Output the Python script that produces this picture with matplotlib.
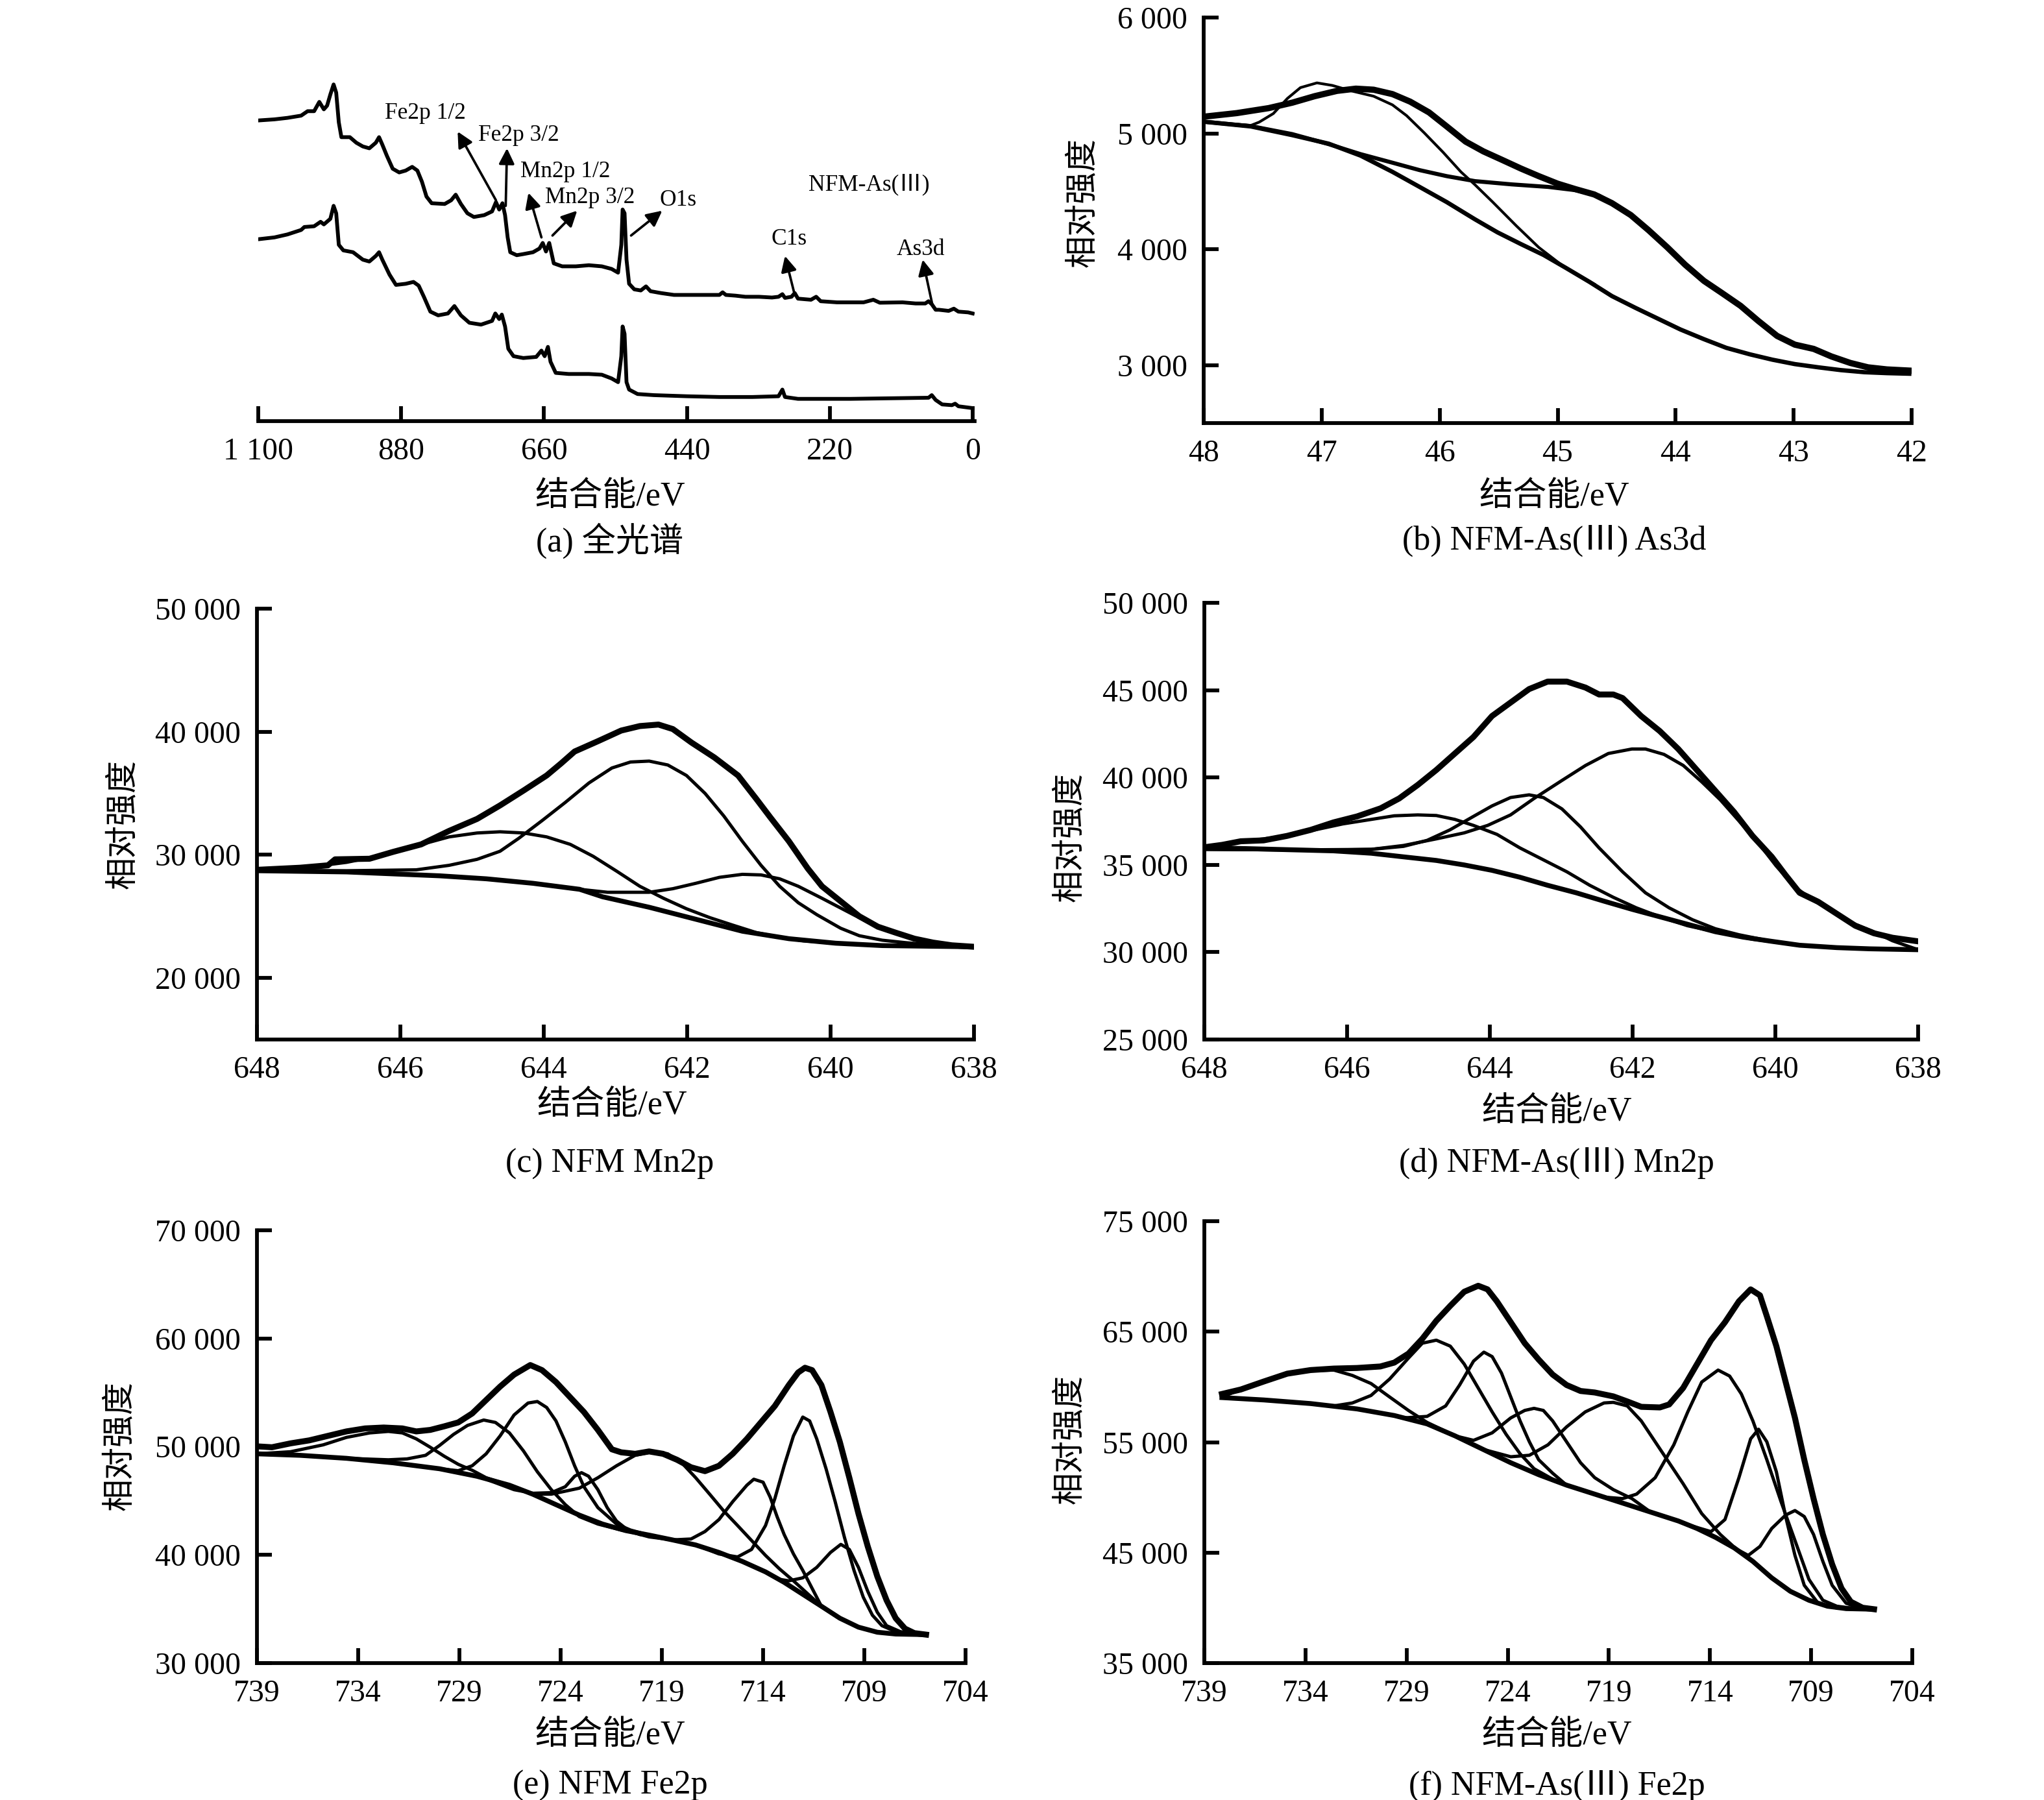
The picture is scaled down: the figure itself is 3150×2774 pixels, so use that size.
import matplotlib
matplotlib.use('Agg')
import matplotlib.pyplot as plt
from matplotlib.ticker import FuncFormatter

plt.rcParams['font.family'] = ['Liberation Serif', 'Noto Sans CJK SC']
plt.rcParams['axes.unicode_minus'] = False

# ---------------- (a) survey spectra (arbitrary intensity) ----------------
a_top_ev = [1100, 1075, 1055, 1034, 1024, 1014, 1006, 999, 994, 989, 984, 980, 976, 972, 959, 949, 939, 929,
            919, 914, 909, 902, 893, 883, 873, 863, 855, 848, 841, 833, 813, 803, 796, 788, 778, 768, 752, 740,
            734, 729, 724, 720, 716, 712, 702, 692, 677, 667, 662, 657, 652, 645, 632, 611, 591, 571, 556, 546,
            541, 539, 536, 533, 529, 521, 511, 503, 496, 480, 460, 440, 410, 390, 385, 380, 365, 350, 329, 309,
            299, 293, 289, 279, 274, 269, 249, 241, 234, 209, 168, 153, 143, 108, 88, 73, 68, 63, 57, 52, 37,
            29, 22, 7, 0]
a_top_int = [810, 813, 817, 823, 835, 835, 860, 840, 850, 880, 907, 885, 805, 765, 765, 750, 740, 735,
             750, 765, 745, 715, 680, 670, 675, 685, 675, 645, 605, 587, 585, 595, 610, 585, 560, 550, 555, 565,
             590, 570, 587, 555, 495, 455, 447, 450, 455, 465, 480, 457, 480, 425, 417, 417, 420, 417, 410, 400,
             475, 570, 560, 435, 370, 355, 352, 363, 350, 345, 340, 340, 340, 340, 347, 340, 338, 335, 335, 333,
             335, 342, 332, 335, 345, 330, 327, 335, 323, 320, 320, 327, 319, 320, 317, 317, 323, 315, 300, 300, 297,
             303, 295, 293, 290]
a_bot_ev = [1100, 1075, 1055, 1034, 1029, 1014, 1004, 999, 989, 984, 980, 976, 969, 954, 939, 929, 919, 914,
            909, 898, 888, 873, 861, 853, 845, 835, 823, 808, 798, 788, 775, 757, 740, 735, 729, 725, 720, 715,
            707, 692, 672, 664, 659, 654, 650, 642, 622, 591, 571, 556, 546, 541, 539, 536, 533, 529, 516, 491,
            440, 390, 339, 299, 293, 289, 269, 188, 108, 68, 63, 57, 47, 32, 27, 22, 0]
a_bot_int = [490, 495, 503, 515, 523, 525, 537, 530, 545, 580, 560, 475, 460, 455, 435, 430, 445, 455,
             435, 395, 367, 370, 375, 365, 335, 295, 285, 290, 310, 285, 265, 260, 270, 290, 275, 287, 255, 195,
             175, 170, 173, 190, 175, 200, 160, 130, 127, 127, 125, 115, 105, 175, 255, 235, 105, 85, 73, 70,
             67, 65, 65, 67, 85, 65, 60, 60, 62, 63, 70, 57, 45, 43, 47, 40, 35]
a_ticks = [1100, 880, 660, 440, 220, 0]
# label, text position, arrow tail, arrow head
a_labels = ['Fe2p 1/2', 'Fe2p 3/2', 'Mn2p 1/2', 'Mn2p 3/2', 'O1s', 'C1s', 'As3d']
a_text_pos = [(843, 830), (699, 770), (627, 673), (589, 603), (454, 595), (283, 490), (80, 463)]
a_arrow_tail = [(734, 595), (719, 580), (664, 495), (647, 500), (526, 500), (274, 340), (62, 313)]
a_arrow_head = [(793, 780), (717, 735), (684, 615), (609, 567), (478, 567), (289, 445), (77, 435)]

# ---------------- (b) NFM-As(III) As3d ----------------
b_env_x = [48.00, 47.72, 47.45, 47.25, 47.06, 46.87, 46.71, 46.56, 46.40, 46.25, 46.09, 45.94, 45.78, 45.63,
           45.47, 45.31, 45.16, 45.00, 44.85, 44.69, 44.54, 44.38, 44.23, 44.07, 43.92, 43.76, 43.61, 43.45,
           43.30, 43.14, 42.99, 42.83, 42.68, 42.52, 42.37, 42.21, 42.02]
b_env_y = [5144, 5175, 5218, 5265, 5321, 5367, 5386, 5377, 5339, 5274, 5181, 5060, 4929, 4845,
           4771, 4696, 4631, 4566, 4519, 4473, 4398, 4295, 4165, 4016, 3867, 3727, 3624, 3512,
           3382, 3252, 3177, 3140, 3075, 3019, 2981, 2963, 2953]
b_pk1_x = [48.00, 47.60, 47.53, 47.41, 47.29, 47.18, 47.04, 46.91, 46.75, 46.56, 46.40, 46.28, 46.13, 45.97,
           45.82, 45.70, 45.55, 45.35, 45.16, 44.97, 44.85, 44.69]
b_pk1_y = [5101, 5069, 5097, 5171, 5302, 5395, 5436, 5414, 5367, 5321, 5246, 5153, 5004, 4836,
           4668, 4556, 4407, 4202, 4016, 3867, 3792, 3700]
b_pk2_x = [48.00, 47.60, 47.25, 46.94, 46.67, 46.40, 46.17, 45.94, 45.70, 45.39, 45.08, 44.85, 44.65, 44.54,
           44.38, 44.23, 44.07, 43.92, 43.76, 43.61, 43.45, 43.30, 43.14, 42.99, 42.83, 42.68, 42.52, 42.37,
           42.21, 42.02]
b_pk2_y = [5101, 5063, 4994, 4907, 4821, 4747, 4683, 4631, 4588, 4560, 4538, 4510, 4463, 4398,
           4295, 4165, 4016, 3867, 3727, 3624, 3512, 3382, 3252, 3177, 3140, 3075, 3019, 2981,
           2963, 2944]
b_bg_x = [48.00, 47.60, 47.25, 46.94, 46.67, 46.40, 46.17, 45.94, 45.70, 45.51, 45.31, 45.12, 44.93, 44.73,
          44.54, 44.34, 44.15, 43.96, 43.76, 43.57, 43.37, 43.18, 42.99, 42.79, 42.60, 42.40, 42.21, 42.02]
b_bg_y = [5101, 5060, 4985, 4911, 4808, 4668, 4538, 4407, 4258, 4146, 4044, 3951, 3839, 3718,
          3596, 3494, 3401, 3308, 3224, 3149, 3093, 3047, 3009, 2981, 2957, 2939, 2931, 2926]

# ---------------- (c) NFM Mn2p ----------------
c_env_x = [648.00, 647.40, 647.01, 646.91, 646.43, 646.10, 645.71, 645.32, 644.93, 644.61, 644.28, 643.96,
           643.76, 643.57, 643.24, 642.92, 642.66, 642.40, 642.20, 641.94, 641.62, 641.29, 641.03, 640.84,
           640.58, 640.32, 640.12, 639.86, 639.60, 639.34, 639.09, 638.83, 638.57, 638.31, 638.00]
c_env_y = [28784, 28955, 29150, 29636, 29685, 30244, 30852, 31947, 32920, 34016, 35232, 36448,
           37422, 38394, 39246, 40098, 40462, 40584, 40219, 39124, 37908, 36448, 34502, 33042,
           31096, 28906, 27446, 26230, 25014, 24162, 23675, 23189, 22872, 22653, 22532]
c_pk1_x = [648.00, 646.75, 645.78, 645.32, 644.93, 644.61, 644.35, 644.02, 643.70, 643.37, 643.05, 642.79,
           642.53, 642.27, 642.01, 641.75, 641.49, 641.23, 640.97, 640.71, 640.45, 640.19, 639.86, 639.60,
           639.28, 638.96, 638.63, 638.00]
c_pk1_y = [28711, 28711, 28784, 29150, 29636, 30293, 31339, 32798, 34259, 35840, 37057, 37543,
           37616, 37300, 36448, 34989, 33164, 31096, 29150, 27446, 26109, 25135, 24040, 23432,
           23067, 22872, 22702, 22532]
c_pk2_x = [648.00, 647.40, 646.75, 646.23, 645.78, 645.32, 644.93, 644.61, 644.28, 643.96, 643.63, 643.31,
           642.98, 642.66, 642.33, 642.01, 641.68, 641.36, 641.03, 640.71, 640.38, 639.93, 639.28, 638.00]
c_pk2_y = [28711, 28906, 29393, 30001, 30731, 31460, 31777, 31874, 31777, 31460, 30852, 29879,
           28662, 27446, 26473, 25622, 24892, 24284, 23675, 23310, 23018, 22824, 22653, 22532]
c_pk3_x = [648.00, 646.75, 645.45, 644.80, 644.15, 643.50, 643.11, 642.53, 642.20, 641.88, 641.55, 641.23,
           640.97, 640.71, 640.45, 640.12, 639.80, 639.48, 639.09, 638.76, 638.44, 638.00]
c_pk3_y = [28711, 28613, 28297, 28054, 27689, 27203, 26960, 26960, 27251, 27689, 28175, 28418,
           28370, 28054, 27446, 26473, 25500, 24527, 23675, 23067, 22702, 22532]
c_bg_x = [648.00, 646.75, 645.45, 644.80, 644.15, 643.50, 643.18, 642.53, 641.88, 641.23, 640.58, 639.93,
          639.28, 638.00]
c_bg_y = [28711, 28613, 28297, 28054, 27689, 27203, 26595, 25743, 24770, 23797, 23189, 22824,
          22629, 22532]

# ---------------- (d) NFM-As(III) Mn2p ----------------
d_env_x = [648.00, 647.75, 647.49, 647.17, 646.84, 646.51, 646.19, 645.86, 645.53, 645.27, 645.01, 644.75,
           644.49, 644.23, 643.97, 643.71, 643.45, 643.19, 642.92, 642.66, 642.47, 642.27, 642.14, 641.88,
           641.62, 641.36, 641.10, 640.84, 640.58, 640.32, 640.05, 639.86, 639.66, 639.40, 639.14, 638.88,
           638.62, 638.36, 638.00]
d_env_y = [36006, 36143, 36349, 36400, 36657, 37000, 37429, 37772, 38235, 38801, 39573, 40430,
           41374, 42317, 43517, 44289, 45061, 45490, 45490, 45147, 44752, 44752, 44546, 43517,
           42660, 41631, 40430, 39230, 38030, 36657, 35457, 34428, 33399, 32885, 32199, 31513,
           31084, 30827, 30620]
d_pk1_x = [648.00, 646.84, 645.66, 645.21, 644.75, 644.36, 644.03, 643.71, 643.38, 642.99, 642.66, 642.34,
           642.01, 641.82, 641.56, 641.29, 641.03, 640.77, 640.51, 640.25, 639.99, 639.73, 639.47, 639.14,
           638.88, 638.62, 638.36, 638.00]
d_pk1_y = [35886, 35851, 35886, 36108, 36486, 36829, 37258, 37858, 38801, 39830, 40688, 41374,
           41631, 41631, 41322, 40688, 39744, 38715, 37515, 36314, 34943, 33742, 32970, 32199,
           31598, 31170, 30655, 30140]
d_pk2_x = [648.00, 646.19, 645.66, 645.21, 644.88, 644.56, 644.23, 643.97, 643.71, 643.45, 643.25, 642.99,
           642.73, 642.47, 642.14, 641.82, 641.49, 641.16, 640.84, 640.51, 640.05, 639.66, 639.14, 638.68,
           638.00]
d_pk2_y = [35886, 35851, 35886, 36057, 36400, 37000, 37772, 38372, 38853, 39007, 38853, 38201,
           37172, 35971, 34599, 33399, 32542, 31856, 31341, 30998, 30620, 30397, 30260, 30192,
           30140]
d_pk3_x = [648.00, 647.62, 647.17, 646.84, 646.45, 646.06, 645.66, 645.34, 645.01, 644.75, 644.49, 644.23,
           643.90, 643.58, 643.25, 642.92, 642.60, 642.27, 641.95, 641.62, 641.23, 640.84, 640.32, 639.66,
           639.01, 638.00]
d_pk3_y = [35971, 36280, 36486, 36657, 37000, 37343, 37601, 37807, 37858, 37824, 37601, 37258,
           36743, 35971, 35286, 34599, 33828, 33141, 32542, 32027, 31513, 31170, 30741, 30397,
           30226, 30140]
d_bg_x = [648.00, 647.49, 646.84, 646.19, 645.66, 645.21, 644.75, 644.36, 643.97, 643.58, 643.19, 642.79,
          642.40, 642.01, 641.62, 641.23, 640.84, 640.45, 640.05, 639.66, 639.14, 638.68, 638.00]
d_bg_y = [35971, 35937, 35868, 35800, 35663, 35457, 35251, 34994, 34685, 34291, 33828, 33399,
          32919, 32456, 32027, 31598, 31170, 30861, 30620, 30397, 30260, 30192, 30140]

# ---------------- (e) NFM Fe2p ----------------
e_env_x = [739.00, 738.26, 737.34, 736.42, 735.50, 734.58, 733.66, 732.74, 731.82, 731.13, 730.44, 729.75,
           729.06, 728.37, 727.68, 726.99, 726.30, 725.50, 724.92, 724.23, 723.54, 722.85, 722.16, 721.47,
           721.01, 720.32, 719.63, 718.94, 718.25, 717.56, 716.87, 716.18, 715.50, 714.80, 714.11, 713.42,
           712.73, 712.27, 711.93, 711.58, 711.12, 710.67, 710.21, 709.74, 709.29, 708.83, 708.36, 707.90,
           707.45, 706.99, 706.53, 705.95]
e_env_y = [50031, 49948, 50307, 50583, 50997, 51412, 51688, 51771, 51688, 51412, 51550, 51881,
           52241, 53069, 54312, 55555, 56660, 57544, 57074, 55969, 54588, 53207, 51550, 49755,
           49479, 49341, 49561, 49341, 48788, 48097, 47739, 48236, 49341, 50721, 52241, 53760,
           55693, 56853, 57295, 57074, 55693, 53207, 50445, 47131, 43816, 40778, 38016, 35807,
           34150, 33183, 32769, 32631]
e_bg_x = [739.00, 736.88, 734.58, 732.28, 729.98, 728.14, 726.53, 725.38, 724.23, 723.08, 721.93, 720.78,
          719.63, 718.48, 717.33, 716.18, 715.03, 713.88, 712.96, 712.04, 711.12, 710.21, 709.29, 708.36,
          707.45, 705.95]
e_bg_y = [49341, 49202, 48926, 48512, 47960, 47269, 46440, 45612, 44645, 43679, 42850, 42242,
          41828, 41386, 40917, 40226, 39398, 38430, 37464, 36359, 35254, 34150, 33321, 32852,
          32686, 32631]
e_pk1_x = [739.00, 737.34, 735.73, 734.58, 733.43, 732.51, 731.82, 731.13, 730.44, 729.75, 729.06, 728.37,
           727.68, 726.53]
e_pk1_y = [49341, 49534, 50169, 50859, 51274, 51412, 51274, 50721, 49948, 49119, 48374, 47822,
           47131, 46440]
e_pk2_x = [734.58, 732.51, 731.59, 730.67, 729.98, 729.29, 728.60, 727.80, 727.22, 726.53, 725.84, 725.15,
           724.46, 723.77, 723.08, 722.16, 721.01, 719.63]
e_pk2_y = [48926, 48788, 48871, 49202, 50114, 51135, 51965, 52462, 52241, 51274, 49617, 47683,
           46026, 44645, 43540, 42850, 42298, 41828]
e_pk3_x = [729.98, 729.06, 728.37, 727.68, 726.99, 726.30, 725.61, 725.15, 724.69, 724.23, 723.77, 723.31,
           722.85, 722.16, 721.24, 720.55, 719.63]
e_pk3_y = [47960, 47780, 48236, 49341, 50997, 52931, 54036, 54174, 53622, 52379, 50445, 48236,
           46302, 44369, 42850, 42298, 41828]
e_pk4_x = [727.68, 726.30, 725.38, 724.46, 723.77, 723.31, 722.97, 722.62, 722.16, 721.70, 721.24, 720.78,
           720.09, 719.63]
e_pk4_y = [46993, 46026, 45695, 45750, 46302, 47269, 47600, 47269, 46026, 44369, 43126, 42436,
           41883, 41828]
e_pk5_x = [725.38, 724.46, 723.08, 722.16, 721.24, 720.32, 719.40, 718.71, 718.02, 717.33, 716.64, 715.96,
           715.26, 714.57, 713.88, 713.19, 712.50, 711.12]
e_pk5_y = [45612, 45612, 46164, 47131, 48236, 49202, 49561, 49341, 48512, 47131, 45612, 44093,
           42712, 41331, 39950, 38707, 37602, 35254]
e_pk6_x = [720.78, 719.63, 718.48, 717.56, 716.87, 716.18, 715.50, 714.80, 714.46, 714.00, 713.65, 713.31,
           712.96, 712.50, 712.04, 711.58, 711.12]
e_pk6_y = [42242, 41663, 41386, 41469, 42160, 43264, 44921, 46440, 46993, 46717, 45335, 43540,
           41883, 40088, 38568, 36911, 35254]
e_pk7_x = [717.33, 716.18, 715.26, 714.57, 713.88, 713.42, 712.96, 712.50, 712.04, 711.70, 711.35, 710.89,
           710.44, 709.98, 709.51, 709.05, 708.60, 708.13, 707.45, 706.53, 705.95]
e_pk7_y = [40917, 40088, 39812, 40502, 42712, 45197, 48236, 50997, 52738, 52379, 50721, 47960,
           44921, 41607, 38568, 36083, 34426, 33459, 32907, 32686, 32631]
e_pk8_x = [713.88, 713.19, 712.73, 712.04, 711.35, 710.67, 710.16, 709.74, 709.29, 708.83, 708.36, 707.90,
           707.22, 706.53, 705.95]
e_pk8_y = [38430, 37740, 37602, 37878, 38845, 40226, 40972, 40502, 38845, 36635, 34702, 33459,
           32907, 32686, 32631]

# ---------------- (f) NFM-As(III) Fe2p ----------------
f_env_x = [738.13, 737.20, 736.05, 734.90, 733.75, 732.60, 731.45, 730.30, 729.61, 728.91, 728.22, 727.53,
           726.84, 726.15, 725.46, 725.00, 724.54, 723.85, 723.16, 722.47, 721.78, 721.09, 720.40, 719.70,
           718.78, 718.09, 717.40, 716.48, 716.02, 715.33, 714.64, 713.95, 713.26, 712.57, 711.99, 711.53,
           711.19, 710.72, 710.26, 709.80, 709.34, 708.88, 708.42, 707.96, 707.50, 707.04, 706.46, 705.89]
f_env_y = [59359, 59765, 60496, 61199, 61524, 61659, 61713, 61849, 62201, 63012, 64365, 65989,
           67342, 68614, 69155, 68830, 67748, 65854, 63959, 62471, 61118, 60171, 59630, 59495,
           59143, 58683, 58196, 58142, 58412, 59901, 62065, 64230, 65854, 67748, 68830, 68289,
           66395, 63689, 60442, 57195, 53406, 49889, 46641, 43935, 41771, 40553, 40011, 39876]
f_bg_x = [738.13, 736.05, 733.75, 731.45, 729.61, 727.99, 726.61, 725.23, 723.85, 722.47, 721.09, 719.70,
          718.32, 716.94, 715.56, 714.64, 713.72, 712.80, 711.88, 710.95, 710.03, 709.11, 708.19, 707.27,
          705.89]
f_bg_y = [59035, 58818, 58493, 58006, 57411, 56653, 55571, 54353, 53136, 52053, 51107, 50295,
          49484, 48672, 47860, 47183, 46371, 45424, 44206, 42718, 41500, 40688, 40147, 39930,
          39876]
f_pk1_x = [738.13, 737.20, 736.05, 734.90, 733.75, 732.60, 731.68, 730.76, 729.84, 728.91, 727.99, 727.07,
           726.15, 725.23]
f_pk1_y = [59089, 59765, 60442, 61118, 61470, 61524, 61037, 60307, 59089, 57871, 56789, 55977,
           55165, 54353]
f_pk2_x = [733.75, 732.60, 731.68, 730.76, 729.84, 728.91, 728.22, 727.53, 726.84, 726.15, 725.46, 724.77,
           724.08, 723.39, 722.70, 721.78, 721.09]
f_pk2_y = [58493, 58277, 58547, 59224, 60712, 62607, 63959, 64230, 63689, 62065, 59901, 57736,
           55706, 53947, 52595, 51648, 51107]
f_pk3_x = [729.61, 729.14, 727.99, 727.07, 726.38, 725.69, 725.18, 724.77, 724.31, 723.85, 723.39, 722.93,
           722.47, 721.78, 721.09]
f_pk3_y = [57411, 57195, 57330, 58277, 60171, 62336, 63148, 62742, 61254, 59089, 56924, 55030,
           53406, 52189, 51107]
f_pk4_x = [726.61, 725.69, 724.77, 723.85, 723.16, 722.70, 722.24, 721.78, 721.09, 720.40, 719.70, 718.78,
           717.86, 716.94]
f_pk4_y = [55571, 55165, 55842, 57195, 57871, 58060, 57871, 56924, 55030, 53136, 51783, 50701,
           49889, 48672]
f_pk5_x = [725.23, 723.85, 722.93, 722.01, 721.09, 720.17, 719.24, 718.78, 718.09, 717.40, 716.71, 716.02,
           715.33, 714.41, 713.49, 712.68]
f_pk5_y = [54353, 53677, 53812, 54759, 56383, 57736, 58547, 58602, 58277, 56924, 55030, 53136,
           51241, 48535, 46641, 45288]
f_pk6_x = [719.24, 718.32, 717.63, 716.71, 715.79, 715.10, 714.41, 713.60, 713.03, 712.45, 711.88, 711.19,
           710.49, 709.80, 709.11, 708.42, 707.73, 706.81]
f_pk6_y = [50025, 49889, 50295, 51783, 54759, 57736, 60442, 61524, 60983, 59359, 56924, 53406,
           49619, 46100, 42582, 40688, 40147, 39930]
f_pk7_x = [715.56, 714.87, 713.95, 713.26, 712.57, 711.99, 711.60, 711.19, 710.72, 710.26, 709.80, 709.34,
           708.65, 707.73]
f_pk7_y = [47860, 47400, 46900, 47995, 51783, 55301, 56166, 55030, 52324, 48265, 44747, 42041,
           40417, 39984]
f_pk8_x = [712.80, 712.11, 711.53, 710.95, 710.26, 709.80, 709.34, 708.88, 708.42, 707.96, 707.27, 706.58]
f_pk8_y = [45424, 44747, 45559, 47183, 48401, 48807, 48265, 46641, 44206, 42041, 40417, 39984]

# ---------------- layout (pixels of the 3150 x 2774 canvas) ----------------
W, H = 3150, 2774
fig = plt.figure(figsize=(W / 300, H / 300), dpi=300)

TICK_FS = 11.5
LABEL_FS = 12.5
ANNOT_FS = 8.5


def px_axes(left, right, top, bottom):
    return fig.add_axes([left / W, 1 - bottom / H, (right - left) / W, (bottom - top) / H])


def fmt_space(v, pos):
    return '{:,}'.format(int(round(v))).replace(',', ' ')


def style(ax, xlim, ylim, xticks, yticks=None):
    ax.set_xlim(*xlim)
    ax.set_ylim(*ylim)
    ax.set_xticks(xticks)
    ax.spines['top'].set_visible(False)
    ax.spines['right'].set_visible(False)
    ax.spines['bottom'].set_linewidth(1.4)
    ax.spines['left'].set_linewidth(1.4)
    if yticks is None:
        ax.spines['left'].set_visible(False)
        ax.set_yticks([])
    else:
        ax.set_yticks(yticks)
    ax.xaxis.set_major_formatter(FuncFormatter(fmt_space))
    ax.yaxis.set_major_formatter(FuncFormatter(fmt_space))
    ax.tick_params(direction='in', length=5.5, width=1.4, labelsize=TICK_FS, pad=6)


def fig_text(x, y, s, size=LABEL_FS, **kw):
    fig.text(x / W, 1 - y / H, s, ha='center', va='center', fontsize=size, **kw)


def draw_fit(ax, env, bg, peaks, env_lw=2.2):
    for px, py in peaks:
        ax.plot(px, py, color='black', lw=1.2)
    ax.plot(bg[0], bg[1], color='black', lw=1.8)
    ax.plot(env[0], env[1], color='black', lw=env_lw)


# (a)
ax = px_axes(398, 1502, 117, 649)
ax.plot(a_top_ev, a_top_int, color='black', lw=1.4)
ax.plot(a_bot_ev, a_bot_int, color='black', lw=1.4)
for lab, tp, tail, head in zip(a_labels, a_text_pos, a_arrow_tail, a_arrow_head):
    ax.annotate('', xy=head, xytext=tail,
                arrowprops=dict(arrowstyle='-|>', color='black', lw=0.9, mutation_scale=12,
                                shrinkA=0, shrinkB=0))
    ax.text(tp[0], tp[1], lab, ha='center', va='center', fontsize=ANNOT_FS)
ax.text(160, 638, 'NFM-As(Ⅲ)', ha='center', va='center', fontsize=ANNOT_FS)
style(ax, (1100, -3), (0, 930), a_ticks)

# (b)
ax = px_axes(1855, 2946, 27, 652)
ax.plot(b_pk1_x, b_pk1_y, color='black', lw=1.0)
ax.plot(b_pk2_x, b_pk2_y, color='black', lw=1.5)
ax.plot(b_bg_x, b_bg_y, color='black', lw=1.6)
ax.plot(b_env_x, b_env_y, color='black', lw=2.3)
style(ax, (48, 42), (2500, 6000), [48, 47, 46, 45, 44, 43, 42], [3000, 4000, 5000, 6000])

# (c)
ax = px_axes(396, 1501, 938, 1602)
draw_fit(ax, (c_env_x, c_env_y), (c_bg_x, c_bg_y),
         [(c_pk1_x, c_pk1_y), (c_pk2_x, c_pk2_y), (c_pk3_x, c_pk3_y)])
style(ax, (648, 638), (15000, 50000), [648, 646, 644, 642, 640, 638], [20000, 30000, 40000, 50000])

# (d)
ax = px_axes(1856, 2956, 929, 1602)
draw_fit(ax, (d_env_x, d_env_y), (d_bg_x, d_bg_y),
         [(d_pk1_x, d_pk1_y), (d_pk2_x, d_pk2_y), (d_pk3_x, d_pk3_y)])
style(ax, (648, 638), (25000, 50000), [648, 646, 644, 642, 640, 638],
      [25000, 30000, 35000, 40000, 45000, 50000])

# (e)
ax = px_axes(396, 1488, 1896, 2563)
draw_fit(ax, (e_env_x, e_env_y), (e_bg_x, e_bg_y),
         [(e_pk1_x, e_pk1_y), (e_pk2_x, e_pk2_y), (e_pk3_x, e_pk3_y), (e_pk4_x, e_pk4_y),
          (e_pk5_x, e_pk5_y), (e_pk6_x, e_pk6_y), (e_pk7_x, e_pk7_y), (e_pk8_x, e_pk8_y)])
style(ax, (739, 704), (30000, 70000), [739, 734, 729, 724, 719, 714, 709, 704],
      [30000, 40000, 50000, 60000, 70000])

# (f)
ax = px_axes(1856, 2947, 1882, 2563)
draw_fit(ax, (f_env_x, f_env_y), (f_bg_x, f_bg_y),
         [(f_pk1_x, f_pk1_y), (f_pk2_x, f_pk2_y), (f_pk3_x, f_pk3_y), (f_pk4_x, f_pk4_y),
          (f_pk5_x, f_pk5_y), (f_pk6_x, f_pk6_y), (f_pk7_x, f_pk7_y), (f_pk8_x, f_pk8_y)])
style(ax, (739, 704), (35000, 75000), [739, 734, 729, 724, 719, 714, 709, 704],
      [35000, 45000, 55000, 65000, 75000])

# axis labels and captions
for x, y in [(940, 766), (2395, 766), (943, 1704), (2399, 1714), (940, 2675), (2399, 2675)]:
    fig_text(x, y, '结合能/eV')
for x, y in [(1669, 312), (190, 1270), (1649, 1290), (185, 2228), (1649, 2218)]:
    fig_text(x, y, '相对强度', size=12, rotation=90)
captions = ['(a) 全光谱', '(b) NFM-As(Ⅲ) As3d', '(c) NFM Mn2p',
            '(d) NFM-As(Ⅲ) Mn2p', '(e) NFM Fe2p', '(f) NFM-As(Ⅲ) Fe2p']
cap_pos = [(940, 833), (2395, 833), (940, 1794), (2399, 1792), (940, 2752), (2399, 2752)]
for s, (x, y) in zip(captions, cap_pos):
    fig_text(x, y, s)

fig.savefig('out.png', dpi=300, facecolor='white')
